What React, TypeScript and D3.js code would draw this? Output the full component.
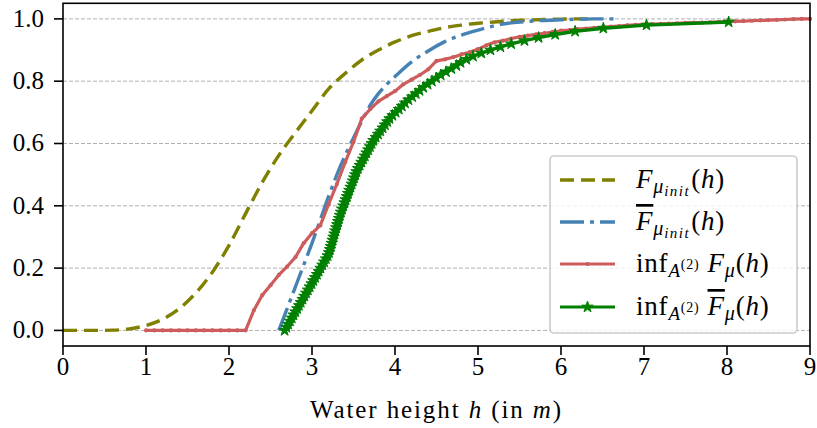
import React from "react";
import * as d3 from "d3";

// ---- data ----
const xTicks = [0, 1, 2, 3, 4, 5, 6, 7, 8, 9];
const yTicks = [0, 0.2, 0.4, 0.6, 0.8, 1.0];

// F_{mu_init}(h)  (olive, dashed)
const olive: [number, number][] = [
  [0, 0], [0.2, 0], [0.4, 0], [0.6, 0.001], [0.8, 0.005], [1.0, 0.016], [1.2, 0.036],
  [1.4, 0.07], [1.6, 0.12], [1.8, 0.187], [2.0, 0.273], [2.2, 0.375], [2.4, 0.475],
  [2.6, 0.562], [2.8, 0.635], [3.0, 0.705], [3.2, 0.775], [3.4, 0.825], [3.6, 0.868],
  [3.8, 0.9], [4.0, 0.926], [4.2, 0.946], [4.4, 0.96], [4.6, 0.972], [4.8, 0.98],
  [5.0, 0.986], [5.2, 0.99], [5.4, 0.994], [5.6, 0.996], [5.8, 0.998], [6.0, 0.999],
  [6.2, 1.0], [6.4, 1.0],
];

// upper F_{mu_init}(h)  (steelblue, dash-dot)
const blue: [number, number][] = [
  [2.6, 0], [2.7, 0.07], [2.8, 0.14], [2.9, 0.21], [3.0, 0.28], [3.1, 0.355], [3.2, 0.43],
  [3.3, 0.5], [3.4, 0.562], [3.5, 0.618], [3.6, 0.672], [3.7, 0.722], [3.8, 0.76],
  [3.9, 0.79], [4.0, 0.815], [4.2, 0.862], [4.4, 0.897], [4.6, 0.927], [4.8, 0.948],
  [5.0, 0.964], [5.2, 0.978], [5.4, 0.987], [5.6, 0.992], [5.8, 0.995], [6.0, 0.997],
  [6.2, 0.999], [6.4, 1.0], [6.7, 1.0],
];

// inf F_mu(h)  (indianred, dots)
const red: [number, number][] = [
  [1.0, 0], [1.1, 0], [1.2, 0], [1.3, 0], [1.4, 0], [1.5, 0], [1.6, 0], [1.7, 0], [1.8, 0],
  [1.9, 0], [2.0, 0], [2.1, 0], [2.2, 0], [2.3, 0.065], [2.4, 0.113], [2.5, 0.145],
  [2.6, 0.178], [2.7, 0.205], [2.8, 0.235], [2.9, 0.28], [3.0, 0.312], [3.1, 0.337],
  [3.2, 0.405], [3.3, 0.47], [3.4, 0.54], [3.5, 0.605], [3.6, 0.68], [3.7, 0.71],
  [3.8, 0.735], [3.9, 0.752], [4.0, 0.768], [4.1, 0.79], [4.2, 0.805], [4.3, 0.82],
  [4.4, 0.838], [4.5, 0.865], [4.6, 0.87], [4.7, 0.877], [4.8, 0.886], [4.9, 0.893],
  [5.0, 0.903], [5.1, 0.915], [5.2, 0.925], [5.3, 0.93], [5.4, 0.937], [5.5, 0.942],
  [5.6, 0.946], [5.7, 0.95], [5.8, 0.954], [5.9, 0.958], [6.0, 0.962], [6.1, 0.964],
  [6.2, 0.967], [6.3, 0.969], [6.4, 0.971], [6.5, 0.973], [6.6, 0.975], [6.7, 0.977],
  [6.8, 0.979], [6.9, 0.981], [7.0, 0.982], [7.1, 0.983], [7.2, 0.984], [7.3, 0.985],
  [7.4, 0.986], [7.5, 0.987], [7.6, 0.988], [7.7, 0.988], [7.8, 0.989], [7.9, 0.99],
  [8.0, 0.991], [8.1, 0.992], [8.2, 0.993], [8.3, 0.994], [8.4, 0.995], [8.5, 0.996],
  [8.6, 0.997], [8.7, 0.998], [8.8, 0.999], [8.9, 1.0], [9.0, 1.0],
];

// inf upper F_mu(h)  (green, stars)
const green: [number, number][] = [
  [2.67, 0.0], [2.692, 0.01], [2.713, 0.02], [2.735, 0.03], [2.757, 0.04], [2.778, 0.05],
  [2.8, 0.06], [2.822, 0.07], [2.843, 0.08], [2.865, 0.09], [2.886, 0.1], [2.908, 0.11],
  [2.93, 0.12], [2.951, 0.13], [2.973, 0.14], [2.995, 0.15], [3.016, 0.16], [3.038, 0.17],
  [3.06, 0.18], [3.081, 0.19], [3.103, 0.2], [3.125, 0.21], [3.146, 0.22], [3.168, 0.23],
  [3.189, 0.24], [3.205, 0.25], [3.216, 0.26], [3.227, 0.27], [3.238, 0.28], [3.248, 0.29],
  [3.259, 0.3], [3.27, 0.31], [3.281, 0.32], [3.292, 0.33], [3.303, 0.34], [3.314, 0.35],
  [3.325, 0.36], [3.336, 0.37], [3.349, 0.38], [3.363, 0.39], [3.377, 0.4], [3.392, 0.41],
  [3.406, 0.42], [3.421, 0.43], [3.435, 0.44], [3.45, 0.45], [3.464, 0.46], [3.478, 0.47],
  [3.493, 0.48], [3.507, 0.49], [3.521, 0.5], [3.536, 0.51], [3.554, 0.52], [3.575, 0.53],
  [3.596, 0.54], [3.616, 0.55], [3.637, 0.56], [3.657, 0.57], [3.678, 0.58], [3.699, 0.59],
  [3.719, 0.6], [3.74, 0.61], [3.768, 0.62], [3.796, 0.63], [3.823, 0.64], [3.851, 0.65],
  [3.879, 0.66], [3.907, 0.67], [3.934, 0.68], [3.97, 0.69], [4.008, 0.7], [4.046, 0.71],
  [4.083, 0.72], [4.121, 0.73], [4.162, 0.74], [4.207, 0.75], [4.251, 0.76], [4.296, 0.77],
  [4.34, 0.78], [4.393, 0.79], [4.445, 0.8], [4.498, 0.81], [4.551, 0.82], [4.615, 0.83],
  [4.678, 0.84], [4.74, 0.85], [4.79, 0.86], [4.86, 0.87], [4.94, 0.88], [5.04, 0.89],
  [5.15, 0.9], [5.27, 0.91], [5.4, 0.92], [5.56, 0.93], [5.73, 0.94], [5.93, 0.95],
  [6.17, 0.96], [6.51, 0.97], [7.03, 0.98], [8.02, 0.99],
];

const C_OLIVE = "#808000";
const C_BLUE = "#4682b4";
const C_RED = "#cd5c5c";
const C_GREEN = "#008000";

const W = 817;
const H = 428;
const FONT = '"Liberation Serif", "DejaVu Serif", serif';

export default function App() {
  const x = d3.scaleLinear().domain([0, 9]).range([63, 810]);
  const y = d3.scaleLinear().domain([-0.05, 1.05]).range([346, 3.3]);
  const line = d3
    .line<[number, number]>()
    .x((d) => x(d[0]))
    .y((d) => y(d[1]));
  const smooth = d3
    .line<[number, number]>()
    .x((d) => x(d[0]))
    .y((d) => y(d[1]))
    .curve(d3.curveMonotoneX);
  const star = d3.symbol().type(d3.symbolStar).size(40)() as string;
  const [x0, x1] = x.range();
  const [yb, yt] = y.range();

  const lg = { x: 550, y: 156, w: 247, h: 177 };
  const rows = [180, 222, 264, 307];
  const hx0 = 560;
  const hx1 = 615;
  const tx = 636;
  const fs = 25;
  const lfs = 27;
  const tStyle = { fontFamily: FONT };
  const lStyle = { fontFamily: FONT, letterSpacing: "0.8px" };

  return (
    <svg
      width={W}
      height={H}
      style={{ position: "absolute", left: 0, top: 0, background: "#fff", fontFamily: FONT }}
    >
      <rect x={0} y={0} width={W} height={H} fill="#fff" />
      {/* grid */}
      {yTicks.map((t) => (
        <line
          key={"g" + t}
          x1={x0}
          x2={x1}
          y1={y(t)}
          y2={y(t)}
          stroke="#b0b0b0"
          strokeWidth={1}
          strokeDasharray="4 2"
        />
      ))}
      {/* series */}
      <path d={smooth(olive) || ""} fill="none" stroke={C_OLIVE} strokeWidth={3.4} strokeDasharray="14 7" />
      <path d={smooth(blue) || ""} fill="none" stroke={C_BLUE} strokeWidth={3.4} strokeDasharray="24 6 4 6" />
      <path d={line(red) || ""} fill="none" stroke={C_RED} strokeWidth={3.2} strokeLinejoin="round" />
      {red.map((d, i) => (
        <circle key={"r" + i} cx={x(d[0])} cy={y(d[1])} r={2.1} fill={C_RED} />
      ))}
      <path d={line(green) || ""} fill="none" stroke={C_GREEN} strokeWidth={3.4} strokeLinejoin="round" />
      {green.map((d, i) => (
        <path key={"s" + i} d={star} transform={`translate(${x(d[0])},${y(d[1])})`} fill={C_GREEN} stroke={C_GREEN} strokeWidth={1} />
      ))}
      {/* frame */}
      <rect x={x0} y={yt} width={x1 - x0} height={yb - yt} fill="none" stroke="#000" strokeWidth={1.6} />
      {/* x ticks */}
      {xTicks.map((t) => (
        <g key={"x" + t} transform={`translate(${x(t)},0)`}>
          <line y1={yb} y2={yb + 9} stroke="#000" strokeWidth={1.6} />
          <text y={yb + 29} textAnchor="middle" fontSize={fs} fill="#000" style={tStyle}>
            {t}
          </text>
        </g>
      ))}
      {/* y ticks */}
      {yTicks.map((t) => (
        <g key={"y" + t} transform={`translate(0,${y(t)})`}>
          <line x1={x0 - 9} x2={x0} stroke="#000" strokeWidth={1.6} />
          <text x={44} y={8} textAnchor="end" fontSize={fs} fill="#000" style={tStyle}>
            {d3.format(".1f")(t)}
          </text>
        </g>
      ))}
      {/* x label */}
      <text x={(x0 + x1) / 2} y={418} textAnchor="middle" fontSize={fs} fill="#000" style={{ ...tStyle, letterSpacing: "1.9px" }}>
        Water height <tspan fontStyle="italic">h</tspan> (in <tspan fontStyle="italic">m</tspan>)
      </text>

      {/* legend */}
      <rect x={lg.x} y={lg.y} width={lg.w} height={lg.h} rx={4} fill="#fff" fillOpacity={0.8} stroke="#cccccc" strokeWidth={1.6} />
      <line x1={hx0} x2={hx1} y1={rows[0]} y2={rows[0]} stroke={C_OLIVE} strokeWidth={3.4} strokeDasharray="14 7" />
      <line x1={hx0} x2={hx1} y1={rows[1]} y2={rows[1]} stroke={C_BLUE} strokeWidth={3.4} strokeDasharray="24 6 4 6" />
      <line x1={hx0} x2={hx1} y1={rows[2]} y2={rows[2]} stroke={C_RED} strokeWidth={3.2} />
      <circle cx={(hx0 + hx1) / 2} cy={rows[2]} r={2.1} fill={C_RED} />
      <line x1={hx0} x2={hx1} y1={rows[3]} y2={rows[3]} stroke={C_GREEN} strokeWidth={3.2} />
      <path d={star} transform={`translate(${(hx0 + hx1) / 2},${rows[3]})`} fill={C_GREEN} stroke={C_GREEN} strokeWidth={1} />

      <text x={tx} y={rows[0] + 8} fontSize={lfs} fill="#000" style={lStyle}>
        <tspan fontStyle="italic">F</tspan>
        <tspan fontStyle="italic" fontSize={20} dy={5}>μ</tspan>
        <tspan fontStyle="italic" fontSize={15} dy={3} style={{ letterSpacing: "1.5px" }}>init</tspan>
        <tspan dy={-8} dx={1}>(</tspan>
        <tspan fontStyle="italic">h</tspan>
        <tspan>)</tspan>
      </text>
      <text x={tx} y={rows[1] + 8} fontSize={lfs} fill="#000" style={lStyle}>
        <tspan fontStyle="italic" style={{ textDecoration: "overline" }}>F</tspan>
        <tspan fontStyle="italic" fontSize={20} dy={5}>μ</tspan>
        <tspan fontStyle="italic" fontSize={15} dy={3} style={{ letterSpacing: "1.5px" }}>init</tspan>
        <tspan dy={-8} dx={1}>(</tspan>
        <tspan fontStyle="italic">h</tspan>
        <tspan>)</tspan>
      </text>
      <text x={tx} y={rows[2] + 8} fontSize={lfs} fill="#000" style={lStyle}>
        <tspan>inf</tspan>
        <tspan fontStyle="italic" fontSize={19} dy={5}>A</tspan>
        <tspan fontSize={14} dy={-8}>(2)</tspan>
        <tspan dy={3} dx={8} fontStyle="italic">F</tspan>
        <tspan fontStyle="italic" fontSize={20} dy={5}>μ</tspan>
        <tspan dy={-5}>(</tspan>
        <tspan fontStyle="italic">h</tspan>
        <tspan>)</tspan>
      </text>
      <text x={tx} y={rows[3] + 8} fontSize={lfs} fill="#000" style={lStyle}>
        <tspan>inf</tspan>
        <tspan fontStyle="italic" fontSize={19} dy={5}>A</tspan>
        <tspan fontSize={14} dy={-8}>(2)</tspan>
        <tspan dy={3} dx={8} fontStyle="italic" style={{ textDecoration: "overline" }}>F</tspan>
        <tspan fontStyle="italic" fontSize={20} dy={5}>μ</tspan>
        <tspan dy={-5}>(</tspan>
        <tspan fontStyle="italic">h</tspan>
        <tspan>)</tspan>
      </text>
    </svg>
  );
}
